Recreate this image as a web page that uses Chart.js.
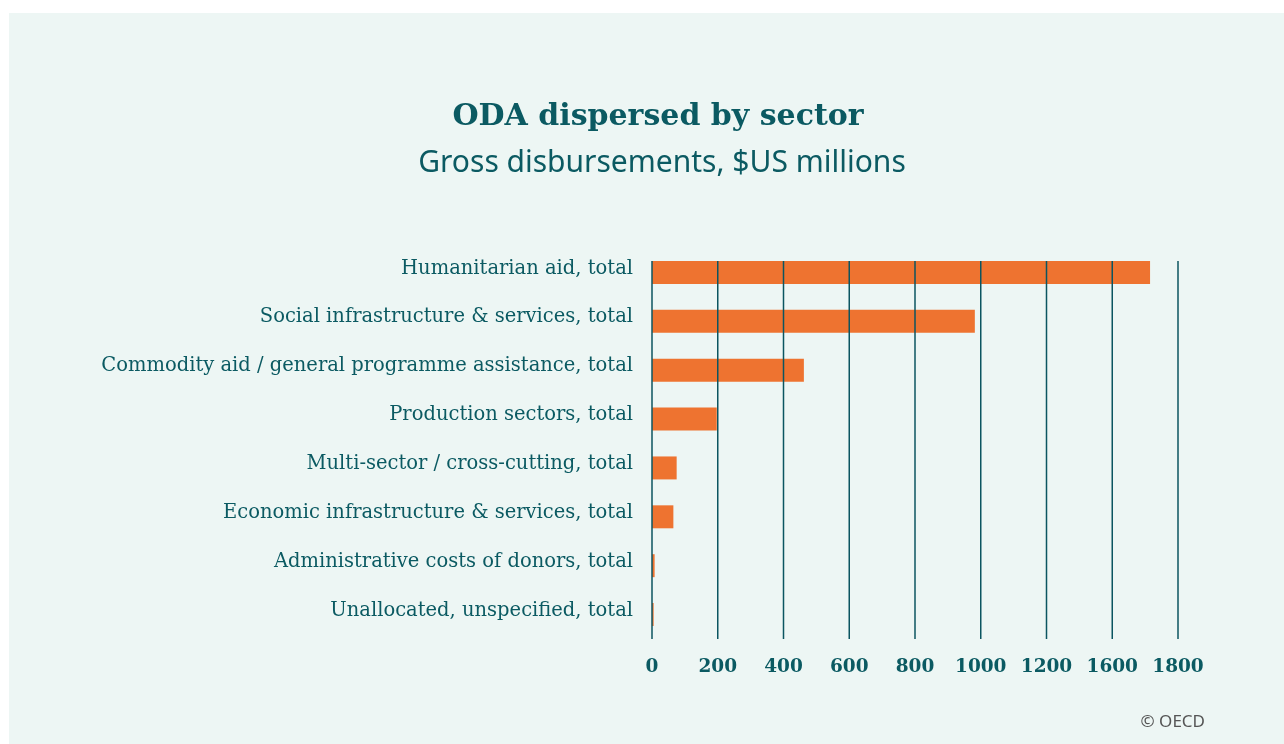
<!DOCTYPE html>
<html>
<head>
<meta charset="utf-8">
<title>ODA dispersed by sector</title>
<script src="https://cdn.jsdelivr.net/npm/chart.js@4/dist/chart.umd.min.js"></script>
<style>
    html, body { margin: 0; padding: 0; background: #ffffff; }
    #wrap { width: 1284px; height: 744px; position: relative; }
</style>
</head>
<body>
<div id="wrap"><canvas id="grafico-oda" width="1284" height="744"></canvas></div>
<script>
// sectors, largest first
const sectors = [
    'Humanitarian aid, total',
    'Social infrastructure & services, total',
    'Commodity aid / general programme assistance, total',
    'Production sectors, total',
    'Multi-sector / cross-cutting, total',
    'Economic infrastructure & services, total',
    'Administrative costs of donors, total',
    'Unallocated, unspecified, total'
];
// gross disbursements, $US millions
const disbursements = [1515, 982, 462, 197, 75, 65, 8, 5];
// axis labels as printed under each grid line
const tickLabels = ['0', '200', '400', '600', '800', '1000', '1200', '1600', '1800'];
const tickStep = 200;

const corTexto = '#0b5a62';
const corFundo = '#edf6f4';
const corBarra = '#ee7330';
const corGrade = '#0b5560';

// panel background, titles and footer
const moldura = {
    id: 'moldura',
    beforeDraw(chart) {
        const c = chart.ctx;
        c.save();
        c.fillStyle = '#ffffff';
        c.fillRect(0, 0, chart.width, chart.height);
        c.fillStyle = corFundo;
        c.fillRect(9, 13, chart.width - 9, chart.height - 13);
        c.textAlign = 'center';
        c.textBaseline = 'alphabetic';
        c.fillStyle = corTexto;
        c.font = 'bold 30px "DejaVu Serif"';
        c.fillText('ODA dispersed by sector', 658, 125);
        c.font = '30px "Noto Sans"';
        c.fillText('Gross disbursements, $US millions', 662, 172);
        c.textAlign = 'right';
        c.fillStyle = '#555555';
        c.font = '17px "Noto Sans"';
        c.fillText('\u00a9 OECD', 1205, 727);
        c.restore();
    }
};

// vertical grid lines over the bars, from the top of the first bar down to the axis
const grade = {
    id: 'grade',
    afterDatasetsDraw(chart) {
        const x = chart.scales.x;
        const meta = chart.getDatasetMeta(0);
        const topo = meta.data[0].y - meta.data[0].height / 2;
        const c = chart.ctx;
        c.save();
        c.strokeStyle = corGrade;
        c.lineWidth = 1.5;
        x.ticks.forEach(function (t) {
            const px = x.getPixelForValue(t.value);
            c.beginPath();
            c.moveTo(px, topo);
            c.lineTo(px, chart.chartArea.bottom);
            c.stroke();
        });
        c.restore();
    }
};

new Chart(document.getElementById('grafico-oda').getContext('2d'), {
    type: 'bar',
    data: {
        labels: sectors,
        datasets: [{
            data: disbursements,
            backgroundColor: corBarra,
            borderWidth: 0,
            barPercentage: 0.94,
            categoryPercentage: 0.5
        }]
    },
    options: {
        indexAxis: 'y',
        responsive: false,
        animation: false,
        layout: {
            padding: { top: 248, left: 100, right: 106, bottom: 55 }
        },
        plugins: {
            legend: { display: false },
            tooltip: { enabled: false }
        },
        scales: {
            x: {
                min: 0,
                max: tickStep * (tickLabels.length - 1),
                grid: { display: false, drawTicks: false },
                border: { display: false },
                afterFit(scale) {
                    scale.height = 50;
                    scale.paddingLeft = 0;
                    scale.paddingRight = 0;
                },
                ticks: {
                    stepSize: tickStep,
                    padding: 17,
                    color: corTexto,
                    font: { size: 18.5, weight: 'bold', family: 'DejaVu Serif' },
                    callback: function (value, i) { return tickLabels[i]; }
                }
            },
            y: {
                grid: { display: false, drawTicks: false },
                border: { display: false },
                afterFit(scale) {
                    scale.width = 552;
                },
                ticks: {
                    padding: 19,
                    labelOffset: -4,
                    color: corTexto,
                    font: { size: 19.5, family: 'DejaVu Serif' }
                }
            }
        }
    },
    plugins: [moldura, grade]
});
</script>
</body>
</html>
